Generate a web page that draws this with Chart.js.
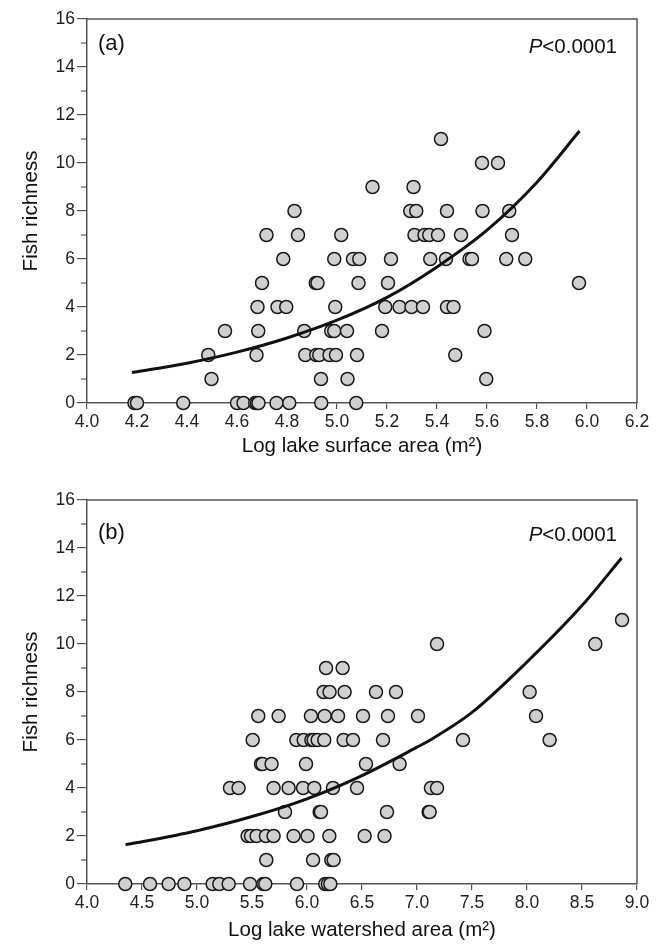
<!DOCTYPE html>
<html>
<head>
<meta charset="utf-8">
<script src="https://cdn.jsdelivr.net/npm/chart.js@4.4.1/dist/chart.umd.min.js"></script>
<style>
  body { margin: 0; background: #fff; font-family: "Liberation Sans", Arial, sans-serif; }
  .panel { position: relative; width: 662px; height: 476px; }
  .lab { position: absolute; color: #111; white-space: nowrap; }
  .tag { font-size: 22px; line-height: 22px; left: 98px; }
  .pval { font-size: 20.5px; line-height: 20px; right: 45px; }
</style>
</head>
<body>
<div class="panel">
  <canvas id="chartA" width="662" height="476"></canvas>
  <div class="lab tag" style="top:32px">(a)</div>
  <div class="lab pval" style="top:36px"><i>P</i>&lt;0.0001</div>
</div>
<div class="panel">
  <canvas id="chartB" width="662" height="476"></canvas>
  <div class="lab tag" style="top:45px">(b)</div>
  <div class="lab pval" style="top:48px"><i>P</i>&lt;0.0001</div>
</div>
<script>
// panel (a): log lake surface area vs fish richness
const surfaceX = [4.19, 4.20, 4.385, 4.60, 4.626, 4.673, 4.68, 4.686, 4.758, 4.809, 4.937, 5.077,
  4.498, 4.936, 5.042, 5.597,
  4.485, 4.678, 4.873, 4.917, 4.929, 4.97, 4.996, 5.08, 5.473,
  4.552, 4.685, 4.869, 4.977, 4.989, 5.04, 5.18, 5.59,
  4.682, 4.762, 4.797, 4.993, 5.193, 5.25, 5.298, 5.344, 5.44, 5.466,
  4.70, 4.915, 4.922, 5.086, 5.204, 5.968,
  4.785, 4.989, 5.064, 5.089, 5.216, 5.373, 5.436, 5.53, 5.54, 5.677, 5.753,
  4.718, 4.844, 5.017, 5.31, 5.35, 5.369, 5.404, 5.496, 5.70,
  4.83, 5.293, 5.317, 5.44, 5.582, 5.689,
  5.142, 5.306,
  5.58, 5.644,
  5.416];
const surfaceRich = [0, 0, 0, 0, 0, 0, 0, 0, 0, 0, 0, 0,
  1, 1, 1, 1,
  2, 2, 2, 2, 2, 2, 2, 2, 2,
  3, 3, 3, 3, 3, 3, 3, 3,
  4, 4, 4, 4, 4, 4, 4, 4, 4, 4,
  5, 5, 5, 5, 5, 5,
  6, 6, 6, 6, 6, 6, 6, 6, 6, 6, 6,
  7, 7, 7, 7, 7, 7, 7, 7, 7,
  8, 8, 8, 8, 8, 8,
  9, 9,
  10, 10,
  11];
const surfaceFitX = [4.18, 4.4, 4.6, 4.8, 5.0, 5.2, 5.4, 5.6, 5.8, 5.97];
const surfaceFitY = [1.27, 1.66, 2.12, 2.71, 3.45, 4.4, 5.67, 7.2, 9.2, 11.33];

// panel (b): log lake watershed area vs fish richness
const shedX = [4.348, 4.573, 4.742, 4.885, 5.142, 5.203, 5.288, 5.482, 5.603, 5.621, 5.909, 6.166, 6.19, 6.212,
  5.63, 6.055, 6.221, 6.242,
  5.46, 5.491, 5.542, 5.627, 5.696, 5.878, 6.005, 6.203, 6.524, 6.705,
  5.80, 6.115, 6.127, 6.727, 7.106, 7.115,
  5.30, 5.378, 5.696, 5.833, 5.964, 6.066, 6.236, 6.455, 7.127, 7.182,
  5.582, 5.596, 5.678, 5.991, 6.536, 6.842,
  5.506, 5.903, 5.97, 6.04, 6.06, 6.097, 6.157, 6.333, 6.418, 6.691, 7.418, 8.206,
  5.557, 5.742, 6.036, 6.16, 6.282, 6.509, 6.736, 7.009, 8.082,
  6.151, 6.205, 6.342, 6.627, 6.809, 8.024,
  6.173, 6.324,
  7.182, 8.621,
  8.864];
const shedRich = [0, 0, 0, 0, 0, 0, 0, 0, 0, 0, 0, 0, 0, 0,
  1, 1, 1, 1,
  2, 2, 2, 2, 2, 2, 2, 2, 2, 2,
  3, 3, 3, 3, 3, 3,
  4, 4, 4, 4, 4, 4, 4, 4, 4, 4,
  5, 5, 5, 5, 5, 5,
  6, 6, 6, 6, 6, 6, 6, 6, 6, 6, 6, 6,
  7, 7, 7, 7, 7, 7, 7, 7, 7,
  8, 8, 8, 8, 8, 8,
  9, 9,
  10, 10,
  11];
const shedFitX = [4.35, 4.5, 5.0, 5.5, 6.0, 6.5, 7.0, 7.12, 7.5, 8.0, 8.5, 8.86];
const shedFitY = [1.64, 1.76, 2.22, 2.81, 3.55, 4.52, 5.7, 6.0, 7.15, 9.25, 11.6, 13.58];

const yTicks = [0, 2, 4, 6, 8, 10, 12, 14, 16];
const yMinor = [1, 3, 5, 7, 9, 11, 13, 15];

const axisColor = '#555';
const font = 'Liberation Sans';

const framePlugin = {
  id: 'frame',
  afterDraw(chart) {
    const ctx = chart.ctx, a = chart.chartArea, y = chart.scales.y;
    ctx.save();
    ctx.strokeStyle = axisColor;
    ctx.lineWidth = 1.5;
    ctx.beginPath();
    ctx.moveTo(a.left, a.top);
    ctx.lineTo(a.right, a.top);
    ctx.lineTo(a.right, a.bottom);
    ctx.stroke();
    ctx.lineWidth = 1.2;
    yMinor.forEach(v => {
      const py = y.getPixelForValue(v);
      ctx.beginPath();
      ctx.moveTo(a.left - 6, py);
      ctx.lineTo(a.left, py);
      ctx.stroke();
    });
    ctx.restore();
  }
};

function makeChart(id, xs, ys, fx, fy, xmin, xmax, xstep, xtitle, padTop, xHeight, titleBottom) {
  const pts = xs.map((x, i) => ({x: x, y: ys[i]}));
  const fit = fx.map((x, i) => ({x: x, y: fy[i]}));
  return new Chart(document.getElementById(id), {
    type: 'scatter',
    data: {
      datasets: [
        {
          type: 'line',
          data: fit,
          borderColor: '#111',
          borderWidth: 3,
          pointRadius: 0,
          fill: false,
          cubicInterpolationMode: 'monotone',
          order: 0
        },
        {
          data: pts,
          backgroundColor: '#d0d0d0',
          borderColor: '#1a1a1a',
          borderWidth: 1.5,
          pointRadius: 6.5,
          pointHoverRadius: 6.5,
          clip: false,
          order: 1
        }
      ]
    },
    options: {
      responsive: false,
      animation: false,
      layout: { padding: { top: padTop, right: 25, left: 0, bottom: 0 } },
      plugins: { legend: { display: false }, tooltip: { enabled: false } },
      scales: {
        x: {
          type: 'linear',
          min: xmin,
          max: xmax,
          ticks: {
            stepSize: xstep,
            color: '#222',
            padding: 3,
            font: { family: font, size: 17.5 },
            callback: v => Number(v).toFixed(1)
          },
          grid: { drawOnChartArea: false, tickLength: 6, color: axisColor, lineWidth: 1.2 },
          border: { color: axisColor, width: 1.5 },
          title: {
            display: true,
            text: xtitle,
            color: '#111',
            font: { family: font, size: 20.5 },
            padding: { top: 4, bottom: titleBottom }
          },
          afterFit: s => { s.height = xHeight; }
        },
        y: {
          min: 0,
          max: 16,
          afterBuildTicks: s => { s.ticks = yTicks.map(v => ({value: v})); },
          ticks: { color: '#222', padding: 2, font: { family: font, size: 17.5 } },
          grid: { drawOnChartArea: false, tickLength: 10, color: axisColor, lineWidth: 1.2 },
          border: { color: axisColor, width: 1.5 },
          title: {
            display: true,
            text: 'Fish richness',
            color: '#111',
            font: { family: font, size: 20.5 },
            padding: { top: 19, bottom: 0 }
          },
          afterFit: s => { s.width = 87; }
        }
      }
    },
    plugins: [framePlugin]
  });
}

makeChart('chartA', surfaceX, surfaceRich, surfaceFitX, surfaceFitY, 4.0, 6.2, 0.2,
  'Log lake surface area (m\u00b2)', 19, 73, 17);
makeChart('chartB', shedX, shedRich, shedFitX, shedFitY, 4.0, 9.0, 0.5,
  'Log lake watershed area (m\u00b2)', 24, 68, 9);
</script>
</body>
</html>
